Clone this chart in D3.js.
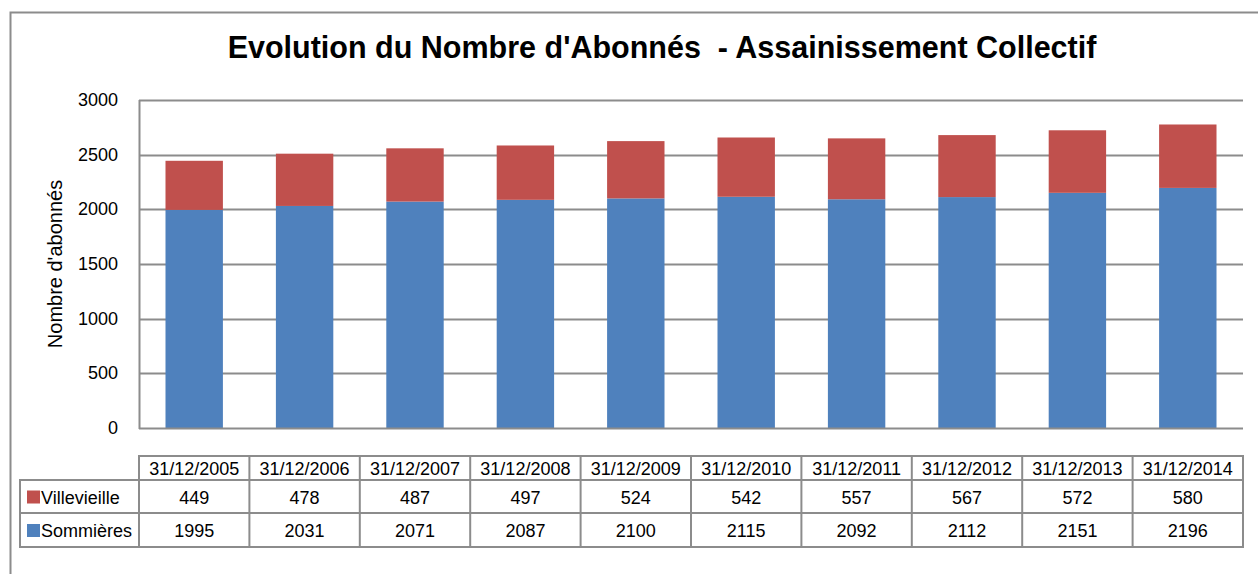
<!DOCTYPE html>
<html>
<head>
<meta charset="utf-8">
<title>Evolution du Nombre d'Abonnés</title>
<style>
    body { margin: 0; background: #fff; font-family: "Liberation Sans", Arial, sans-serif; }
    svg text { fill: #000; }
</style>
</head>
<body>
<div id="chart"></div>
<script src="https://d3js.org/d3.v7.min.js"></script>
<script>
// Data
const dates = ["31/12/2005", "31/12/2006", "31/12/2007", "31/12/2008", "31/12/2009",
               "31/12/2010", "31/12/2011", "31/12/2012", "31/12/2013", "31/12/2014"];
const sommieres = [1995, 2031, 2071, 2087, 2100, 2115, 2092, 2112, 2151, 2196];
const villevieille = [449, 478, 487, 497, 524, 542, 557, 567, 572, 580];
const yTicks = [0, 500, 1000, 1500, 2000, 2500, 3000];

const seriesNames = ["Sommières", "Villevieille"];
const colors = {"Sommières": "#4F81BD", "Villevieille": "#C0504D"};

const W = 1258, H = 574;
const plot = {left: 139, right: 1243, top: 100, bottom: 428};

const svg = d3.select("#chart").append("svg")
    .attr("width", W)
    .attr("height", H);

// outer chart frame (cropped on right/bottom)
svg.append("path")
    .attr("d", `M10.5,${H + 5} L10.5,12.5 L${W + 5},12.5`)
    .attr("fill", "none")
    .attr("stroke", "#8c8c8c")
    .attr("stroke-width", 2);

// title
svg.append("text")
    .attr("x", 662)
    .attr("y", 58)
    .attr("text-anchor", "middle")
    .attr("xml:space", "preserve")
    .style("font-size", "30.5px")
    .style("font-weight", "bold")
    .text("Evolution du Nombre d'Abonnés  - Assainissement Collectif");

const x = d3.scaleBand()
    .domain(dates)
    .range([plot.left, plot.right])
    .paddingInner(0.48)
    .paddingOuter(0.24);

const y = d3.scaleLinear()
    .domain([0, 3000])
    .range([plot.bottom, plot.top]);

// gridlines
svg.append("g")
    .selectAll("line")
    .data(yTicks.filter(d => d > 0))
    .join("line")
    .attr("x1", plot.left)
    .attr("x2", plot.right)
    .attr("y1", d => Math.round(y(d)) + 0.5)
    .attr("y2", d => Math.round(y(d)) + 0.5)
    .attr("stroke", "#8c8c8c")
    .attr("stroke-width", 2);

// stacked bars
const rows = dates.map((d, i) => ({date: d, "Sommières": sommieres[i], "Villevieille": villevieille[i]}));
const stacked = d3.stack().keys(seriesNames)(rows);

svg.append("g")
    .selectAll("g")
    .data(stacked)
    .join("g")
    .attr("fill", d => colors[d.key])
    .selectAll("rect")
    .data(d => d)
    .join("rect")
    .attr("x", d => x(d.data.date))
    .attr("width", x.bandwidth())
    .attr("y", d => y(d[1]))
    .attr("height", d => y(d[0]) - y(d[1]));

// axes lines
svg.append("line")
    .attr("x1", plot.left + 0.5).attr("x2", plot.left + 0.5)
    .attr("y1", plot.top).attr("y2", plot.bottom + 1)
    .attr("stroke", "#8c8c8c").attr("stroke-width", 2);
svg.append("line")
    .attr("x1", plot.left).attr("x2", plot.right)
    .attr("y1", plot.bottom + 0.5).attr("y2", plot.bottom + 0.5)
    .attr("stroke", "#8c8c8c").attr("stroke-width", 2);

// y tick labels
svg.append("g")
    .selectAll("text")
    .data(yTicks)
    .join("text")
    .attr("x", 118)
    .attr("y", d => y(d) + 6)
    .attr("text-anchor", "end")
    .style("font-size", "18px")
    .text(d => d);

// y axis title
svg.append("text")
    .attr("transform", "translate(62,264) rotate(-90)")
    .attr("text-anchor", "middle")
    .style("font-size", "20px")
    .text("Nombre d'abonnés");

// data table
const step = x.step();
const colX = i => plot.left + i * step;
const rowY = [456, 480, 513, 547];
const tbl = svg.append("g")
    .attr("stroke", "#8c8c8c")
    .attr("fill", "none");

// outer frames
tbl.append("rect")
    .attr("x", plot.left).attr("y", rowY[0])
    .attr("width", plot.right - plot.left).attr("height", rowY[3] - rowY[0])
    .attr("stroke-width", 2);
tbl.append("rect")
    .attr("x", 20).attr("y", rowY[1])
    .attr("width", plot.left - 20).attr("height", rowY[3] - rowY[1])
    .attr("stroke-width", 2);
// horizontal inner lines
tbl.selectAll("line.h")
    .data([rowY[1], rowY[2]])
    .join("line")
    .attr("class", "h")
    .attr("x1", 20).attr("x2", plot.right)
    .attr("y1", d => d).attr("y2", d => d)
    .attr("stroke-width", 2);
// vertical lines
tbl.selectAll("line.v")
    .data(d3.range(1, dates.length))
    .join("line")
    .attr("class", "v")
    .attr("x1", d => colX(d)).attr("x2", d => colX(d))
    .attr("y1", rowY[0]).attr("y2", rowY[3])
    .attr("stroke-width", 2);

// header dates
svg.append("g")
    .selectAll("text")
    .data(dates)
    .join("text")
    .attr("x", d => x(d) + x.bandwidth() / 2)
    .attr("y", rowY[0] + 19)
    .attr("text-anchor", "middle")
    .style("font-size", "18px")
    .text(d => d);

// series rows: Villevieille first, Sommières second
const tableRows = [
    {name: "Villevieille", values: villevieille, top: rowY[1], bottom: rowY[2]},
    {name: "Sommières", values: sommieres, top: rowY[2], bottom: rowY[3]}
];

tableRows.forEach(r => {
    const mid = (r.top + r.bottom) / 2;
    svg.append("rect")
        .attr("x", 27).attr("y", mid - 6)
        .attr("width", 13).attr("height", 13)
        .attr("fill", colors[r.name]);
    svg.append("text")
        .attr("x", 41).attr("y", mid + 7)
        .style("font-size", "18px")
        .text(r.name);
    svg.append("g")
        .selectAll("text")
        .data(r.values)
        .join("text")
        .attr("x", (d, i) => x(dates[i]) + x.bandwidth() / 2)
        .attr("y", mid + 7)
        .attr("text-anchor", "middle")
        .style("font-size", "18px")
        .text(d => d);
});
</script>
</body>
</html>
